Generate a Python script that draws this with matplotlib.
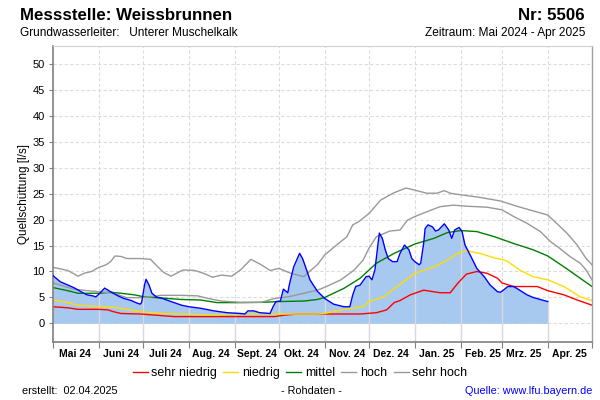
import numpy as np
import pandas as pd
import matplotlib
matplotlib.use("Agg")
import matplotlib.pyplot as plt
import matplotlib.dates as mdates
from matplotlib.lines import Line2D

plt.rcParams['font.family'] = ['Liberation Sans', 'DejaVu Sans']

# ---------------- data (day offsets from 2024-05-01, values in l/s) ----------------
start_date = "2024-05-01"
end_date = "2025-05-01"

blue_days = [0, 5, 10, 14, 19, 23, 27, 29, 31, 35, 39, 44, 48, 53, 57, 59, 60, 62, 63, 65, 67,
             70, 74, 80, 87, 92, 100, 109, 118, 127, 130, 132, 136, 140, 147, 149, 151, 154, 156,
             159, 160, 163, 167, 169, 171, 174, 179, 184, 190, 197, 201, 203, 205, 208, 212, 214,
             216, 218, 220, 221, 223, 225, 227, 230, 233, 235, 238, 241, 243, 245, 248, 249, 251,
             252, 254, 257, 259, 261, 265, 268, 270, 272, 275, 277, 279, 283, 287, 292, 296, 301,
             303, 305, 308, 312, 316, 321, 325, 330, 335]
blue_vals = [9.2, 8.0, 7.4, 6.9, 6.1, 5.5, 5.3, 5.1, 5.6, 6.8, 6.1, 5.3, 4.8, 4.4, 3.9, 3.7, 4.0,
             7.4, 8.5, 7.4, 5.8, 5.1, 4.8, 4.2, 3.5, 3.2, 2.9, 2.4, 2.05, 1.9, 1.8, 2.4, 2.4, 2.05,
             1.9, 3.2, 4.2, 4.3, 6.6, 5.9, 7.4, 10.9, 13.5, 12.5, 10.9, 8.4, 6.2, 4.8, 3.7, 3.2, 3.2,
             5.5, 7.1, 7.4, 9.0, 9.1, 8.4, 10.3, 15.1, 17.4, 16.4, 14.2, 12.5, 11.9, 11.9, 13.5,
             15.1, 14.2, 12.5, 11.9, 11.3, 11.6, 15.4, 18.3, 19.0, 18.6, 17.8, 18.0, 19.2, 18.0,
             16.4, 18.0, 18.5, 17.7, 15.1, 12.9, 10.6, 9.0, 7.4, 6.1, 6.0, 6.4, 7.1, 7.1, 6.4, 5.5,
             5.0, 4.6, 4.2]

sehr_hoch_days = [0, 10, 17, 21, 26, 31, 36, 39, 42, 46, 50, 59, 66, 71, 75, 80, 88, 96, 102, 108,
                  114, 121, 127, 134, 141, 147, 153, 161, 170, 174, 179, 184, 192, 199, 203, 207,
                  214, 222, 231, 239, 245, 253, 260, 265, 269, 276, 289, 303, 314, 325, 335, 341,
                  348, 355, 361, 365]
sehr_hoch_vals = [10.8, 10.2, 9.1, 9.65, 10.0, 10.8, 11.3, 11.9, 13.0, 12.9, 12.5, 12.5, 12.35,
                  10.9, 9.8, 9.1, 10.3, 10.2, 9.65, 8.9, 9.3, 9.1, 10.3, 12.35, 11.3, 10.2, 10.6,
                  9.65, 9.0, 10.1, 11.3, 13.2, 15.1, 16.7, 19.0, 19.6, 21.2, 23.8, 25.2, 26.1, 25.7,
                  25.1, 25.1, 25.6, 25.1, 24.8, 24.3, 23.6, 22.6, 21.7, 20.9, 19.3, 17.4, 15.1,
                  12.5, 11.3]

hoch_days = [0, 8, 14, 23, 31, 41, 50, 59, 66, 73, 87, 98, 105, 114, 127, 141, 150, 159, 170,
             179, 184, 195, 204, 210, 214, 219, 228, 235, 240, 245, 253, 262, 271, 280, 294, 304,
             312, 321, 330, 337, 343, 350, 357, 361, 365]
hoch_vals = [7.8, 7.1, 6.6, 6.3, 6.1, 5.8, 4.95, 4.95, 5.1, 5.4, 5.4, 5.3, 4.8, 4.3, 4.05, 4.05,
             4.8, 5.1, 5.8, 6.4, 6.95, 8.4, 10.3, 12.2, 14.5, 16.7, 17.8, 18.0, 19.9, 20.6, 21.5,
             22.5, 22.8, 22.6, 22.4, 21.9, 20.6, 19.3, 17.7, 15.75, 14.5, 12.9, 11.6, 10.3, 8.4]

mittel_days = [0, 10, 17, 31, 39, 46, 55, 62, 73, 87, 100, 111, 127, 141, 153, 170, 179, 184,
               197, 208, 219, 231, 245, 258, 267, 276, 287, 299, 312, 325, 335, 346, 357, 365]
mittel_vals = [6.9, 6.3, 5.8, 5.8, 6.0, 5.8, 5.5, 5.1, 4.9, 4.6, 4.5, 4.0, 4.0, 4.05, 4.2, 4.3,
               4.6, 5.0, 6.75, 8.7, 11.6, 13.5, 15.3, 16.4, 17.5, 17.9, 17.7, 16.7, 15.4, 14.2,
               13.0, 10.9, 8.7, 7.1]

niedrig_days = [0, 10, 17, 31, 41, 50, 59, 73, 87, 105, 127, 150, 179, 184, 195, 210, 214, 224,
                233, 245, 258, 267, 274, 280, 289, 298, 307, 316, 325, 335, 346, 357, 365]
niedrig_vals = [4.5, 4.0, 3.5, 3.2, 3.1, 2.7, 2.25, 1.9, 1.8, 1.6, 1.8, 1.8, 1.8, 1.9, 2.6, 3.2,
                4.2, 5.1, 7.1, 9.65, 10.9, 12.2, 13.5, 14.0, 13.5, 12.7, 12.1, 10.3, 9.0, 8.4,
                7.1, 5.1, 4.4]

sehr_niedrig_days = [0, 10, 17, 31, 37, 41, 46, 59, 73, 82, 150, 157, 166, 208, 219, 226, 231,
                     235, 242, 251, 262, 269, 274, 280, 287, 294, 301, 304, 312, 328, 335, 346,
                     355, 365]
sehr_niedrig_vals = [3.2, 3.0, 2.7, 2.7, 2.6, 2.25, 1.9, 1.8, 1.5, 1.3, 1.3, 1.6, 1.8, 1.8, 2.05,
                     2.6, 4.0, 4.4, 5.5, 6.4, 5.9, 5.9, 7.7, 9.5, 10.0, 9.65, 8.7, 7.8, 7.1, 7.1,
                     6.3, 5.5, 4.5, 3.5]

month_labels = ["Mai 24", "Juni 24", "Juli 24", "Aug. 24", "Sept. 24", "Okt. 24", "Nov. 24",
                "Dez. 24", "Jan. 25", "Feb. 25", "Mrz. 25", "Apr. 25"]
y_ticks = [0, 5, 10, 15, 20, 25, 30, 35, 40, 45, 50]
legend_labels = ["sehr niedrig", "niedrig", "mittel", "hoch", "sehr hoch"]

# ---------------- helpers ----------------
t0 = pd.Timestamp(start_date)


def to_dates(days):
    return t0 + pd.to_timedelta(np.asarray(days, dtype=float), unit="D")


fig = plt.figure(figsize=(6, 4), dpi=100)
ax = fig.add_axes([53 / 600, 1 - 342 / 400, (592 - 53) / 600, (342 - 46) / 400])

ymin, ymax = -3.6, 53.5
ax.set_ylim(ymin, ymax)
ax.set_xlim(to_dates([0])[0], pd.Timestamp(end_date))

grid_c = "#dcdcdc"
# dashed grid
for yv in y_ticks:
    ax.axhline(yv, color=grid_c, lw=0.8, ls=(0, (3, 2)), zorder=0)
month_starts = pd.date_range(start_date, end_date, freq="MS")
for m in month_starts[1:-1]:
    ax.axvline(m, color=grid_c, lw=0.8, ls=(0, (3, 2)), zorder=0)

bd = to_dates(blue_days)
ax.fill_between(bd, 0, blue_vals, color="#a7c8ef", lw=0, zorder=1)

# solid light lines through filled area
bnum = mdates.date2num(bd)
for m in month_starts[1:-1]:
    mn = mdates.date2num(m)
    top = np.interp(mn, bnum, blue_vals) if mn <= bnum[-1] else 0
    ax.vlines(m, ymin, top, color="#d9d9d9", lw=1.0, zorder=1.5)

ref = [
    (sehr_niedrig_days, sehr_niedrig_vals, "#ff0000"),
    (niedrig_days, niedrig_vals, "#ffdd00"),
    (mittel_days, mittel_vals, "#008000"),
    (hoch_days, hoch_vals, "#999999"),
    (sehr_hoch_days, sehr_hoch_vals, "#999999"),
]
for d, v, c in ref:
    ax.plot(to_dates(d), v, color=c, lw=1.0, zorder=2)

ax.plot(bd, blue_vals, color="#0000ff", lw=1.0, zorder=3)

# axes styling
for s in ["left", "bottom"]:
    ax.spines[s].set_color("#808080")
    ax.spines[s].set_linewidth(1.2)
ax.spines["top"].set_color("#d0d0d0")
ax.spines["top"].set_linewidth(0.8)
ax.spines["right"].set_color("#a0a0a0")
ax.spines["right"].set_linewidth(1.0)

ax.set_yticks(y_ticks)
ax.set_yticklabels([str(v) for v in y_ticks])
ax.tick_params(axis="y", length=3, width=0.8, color="#808080", labelsize=8, pad=3)

ax.xaxis.set_major_locator(mdates.MonthLocator())
ax.xaxis.set_major_formatter(plt.NullFormatter())
mid = [m + pd.Timedelta(days=15) for m in month_starts[:-1]]
ax.set_xticks(mid, minor=True)
ax.set_xticklabels(month_labels, minor=True, fontsize=7.5, fontweight="bold")
ax.tick_params(axis="x", which="major", length=4, width=0.8, color="#808080")
ax.tick_params(axis="x", which="minor", length=0, pad=5)

ax.set_ylabel("Quellschüttung [l/s]", fontsize=8.5, labelpad=2)

# titles
fig.text(20 / 600, 1 - 15 / 400, "Messstelle: Weissbrunnen", fontsize=12.2, fontweight="bold",
         ha="left", va="center")
fig.text(585 / 600, 1 - 15 / 400, "Nr: 5506", fontsize=12.2, fontweight="bold",
         ha="right", va="center")
fig.text(20 / 600, 1 - 33 / 400, "Grundwasserleiter:   Unterer Muschelkalk", fontsize=8.6,
         ha="left", va="center")
fig.text(585 / 600, 1 - 33 / 400, "Zeitraum: Mai 2024 - Apr 2025", fontsize=8.6,
         ha="right", va="center")

# legend
handles = [Line2D([], [], color=c, lw=1.0) for _, _, c in ref]
fig.legend(handles, legend_labels, loc="center", bbox_to_anchor=(300 / 600, 1 - 373 / 400),
           ncol=5, frameon=False, fontsize=9, handlelength=1.2, handletextpad=0.3,
           columnspacing=0.5)

# footer
fig.text(22 / 600, 1 - 391 / 400, "erstellt:  02.04.2025", fontsize=7.8, ha="left", va="center")
fig.text(311 / 600, 1 - 391 / 400, "- Rohdaten -", fontsize=7.8, ha="center", va="center")
fig.text(592 / 600, 1 - 391 / 400, "Quelle: www.lfu.bayern.de", fontsize=7.8, ha="right",
         va="center", color="#0000ff")

fig.savefig("out.png", dpi=100)
